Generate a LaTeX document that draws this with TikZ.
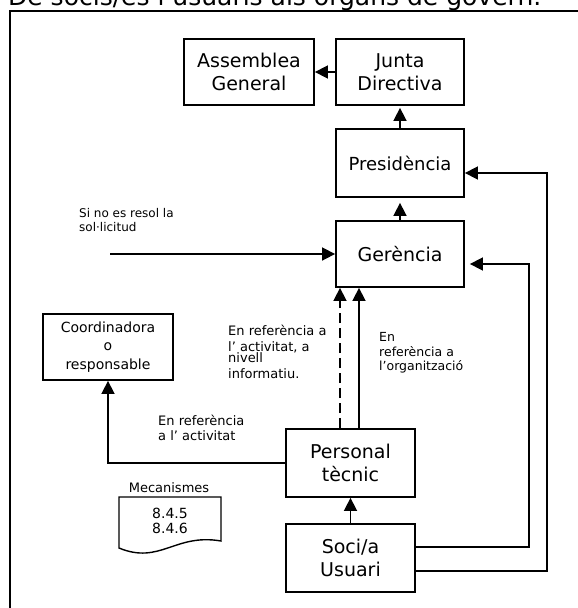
\documentclass[tikz,border=0pt]{standalone}
\usepackage{fontspec}
\setmainfont{DejaVu Sans}
\usetikzlibrary{arrows.meta,calc}
\begin{document}
\begin{tikzpicture}[x=1pt,y=-1pt,
  box/.style={draw, line width=1.8pt, inner sep=0pt, align=center, minimum width=129pt, minimum height=67pt, font=\fontsize{19}{23}\selectfont},
  conn/.style={line width=1.6pt},
  arr/.style={conn, -{Triangle[length=13pt,width=13pt]}},
  lbl/.style={anchor=base west, inner sep=0pt, font=\fontsize{13}{15}\selectfont},
  small/.style={lbl, font=\fontsize{12}{15}\selectfont}]
\useasboundingbox (0,0) rectangle (578,608);
\clip (0,0) rectangle (578,608);
% outer frame
\draw[line width=2pt] (10,630) -- (10,11) -- (600,11);
\node[anchor=base west, inner sep=0pt, font=\fontsize{25}{30}\selectfont] (title) at (8,5.5) {De socis/es i usuaris als òrgans de govern.};
% boxes
\node[box, minimum width=130pt, minimum height=66pt] (assem) at (249,72) {Assemblea\\General};
\node[box, minimum width=128pt, minimum height=66pt] (junta) at (400,72) {Junta\\Directiva};
\node[box, minimum width=128pt, minimum height=68pt, font=\fontsize{18}{22}\selectfont] (pres) at (400,163) {Presidència};
\node[box, minimum width=128pt, minimum height=66pt] (ger) at (400,254) {Gerència};
\node[box, minimum width=130pt, minimum height=66pt, font=\fontsize{14}{18.5}\selectfont] (coord) at (108,347) {Coordinadora\\o\\responsable};
\node[box, minimum height=68pt] (pers) at (350.5,463) {Personal\\tècnic};
\node[box, minimum height=68pt] (soci) at (350.5,558) {Soci/a\\Usuari};
% document shape
\draw[line width=1.4pt] (119,497) -- (221,497) -- (221,541) .. controls (175,533) and (160,565) .. (119,548) -- cycle;
\node[anchor=base, inner sep=0pt, font=\fontsize{13}{15}\selectfont] (mect) at (169,492) {Mecanismes};
\node[anchor=base, inner sep=0pt, font=\fontsize{14}{15}\selectfont] (mec1) at (170,518) {8.4.5};
\node[anchor=base, inner sep=0pt, font=\fontsize{14}{15}\selectfont] (mec2) at (170,533) {8.4.6};
% connectors
\draw[arr] (junta.west) -- (assem.east);
\draw[arr, shorten >=2pt] (pres.north) -- (junta.south);
\draw[arr, shorten >=5pt] (ger.north) -- (pres.south);
\coordinate (src) at (110,254);
\draw[arr] (src) -- (ger.west);
\draw[arr, dash pattern=on 10pt off 5pt] ($(pers.north)+(-10.5,0)$) -- ($(ger.south)+(-60,0)$);
\draw[arr] ($(pers.north)+(8.5,0)$) -- ($(ger.south)+(-41,0)$);
\draw[arr] (pers.west) -| (coord.south);
\draw[arr] (soci.north) -- (pers.south);
\draw[arr, shorten >=5pt] ($(soci.east)+(0,-11)$) -| ($(ger.east)+(64,10)$) -- ($(ger.east)+(0,10)$);
\draw[arr] ($(soci.east)+(0,13)$) -| ($(pres.east)+(82,10)$) -- ($(pres.east)+(0,10)$);
% labels
\node[small] (sn1) at (79,217) {Si no es resol la};
\node[small] (sn2) at (79,231.5) {sol·licitud};
\node[lbl] (ia1) at (228,335) {En referència a};
\node[lbl] (ia2) at (228,351) {l’ activitat, a};
\node[lbl] (ia3) at (228,362) {nivell};
\node[lbl] (ia4) at (228,378) {informatiu.};
\node[small, font=\fontsize{12.5}{15}\selectfont] (io1) at (379,341) {En};
\node[small, font=\fontsize{12.5}{15}\selectfont] (io2) at (379,356) {referència a};
\node[small, font=\fontsize{12.5}{15}\selectfont] (io3) at (379,370) {l’organització};
\node[lbl] (ra1) at (158,425) {En referència};
\node[lbl] (ra2) at (158,440) {a l’ activitat};
\end{tikzpicture}
\end{document}
